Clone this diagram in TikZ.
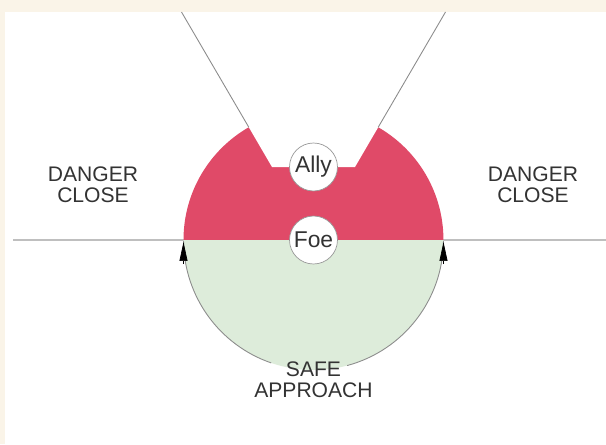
\documentclass[tikz,border=0pt]{standalone}
\usepackage{fontspec}
\setmainfont{Liberation Sans}
\usepackage{xcolor}
\usepackage{tikz}
\usetikzlibrary{arrows.meta, calc}

\definecolor{dangerred}{RGB}{224,74,104}
\definecolor{safegreen}{RGB}{221,236,218}
\definecolor{paper}{RGB}{250,244,232}
\definecolor{inkgray}{RGB}{51,51,51}

\begin{document}
\begin{tikzpicture}[
    x=0.02cm, y=0.02cm,
    font=\fontsize{12}{12}\selectfont,
    zonelabel/.style={
        align=center,
        text=inkgray,
        inner sep=1pt
    },
    unit/.style={
        circle,
        draw=gray!80,
        fill=white,
        minimum size=0.96cm,
        inner sep=0pt,
        text=inkgray,
        font=\fontsize{13}{13}\selectfont
    },
    baseline/.style={draw=gray!50, line width=1.1pt},
    vline/.style={draw=gray!90, line width=0.5pt},
    rim/.style={draw=gray!90, line width=0.5pt},
    tip/.style={-{Triangle[length=0.38cm, width=0.16cm, color=black]}}
]

\fill[paper] (0,0) rectangle (606,444);
\fill[white] (5,0) rectangle (606,432);
\useasboundingbox (0,0) rectangle (606,444);

\coordinate (C) at (313.5,204);
\coordinate (L) at (183.5,204);
\coordinate (R) at (443.5,204);
\coordinate (TL) at (181.5,432);
\coordinate (NL) at (272,277);
\coordinate (NR) at (355,277);
\coordinate (TR) at (445.5,432);
\coordinate (west) at (13,204);
\coordinate (east) at (606,204);

\draw[baseline] (west) -- (east);

\fill[dangerred] (L) arc[start angle=180, end angle=0, radius=2.6cm] -- cycle;
\fill[white] (TL) -- (NL) -- (NR) -- (TR) -- cycle;
\fill[safegreen] (L) arc[start angle=180, end angle=360, radius=2.6cm] -- cycle;

\draw[vline] (TL) -- ($(TL)!0.7435!(NL)$);
\draw[vline] (TR) -- ($(TR)!0.7435!(NR)$);

\node[zonelabel] (dangerW) at (93,259.5) {DANGER\\CLOSE};
\node[zonelabel] (dangerE) at (533,259.5) {DANGER\\CLOSE};
\node[zonelabel] (safe) at (313.5,64) {SAFE\\APPROACH};

\draw[rim] (C) ++(251:2.6cm) arc[start angle=251, end angle=180.5, radius=2.6cm];
\draw[rim] (C) ++(285:2.6cm) arc[start angle=285, end angle=359.5, radius=2.6cm];
\draw[tip] ($(L)+(0,-24)$) -- ($(L)+(0,-2)$);
\draw[tip] ($(R)+(0,-24)$) -- ($(R)+(0,-2)$);

\node[unit] (ally) at (313.5,277) {Ally};
\node[unit] (foe) at (C) {Foe};

\end{tikzpicture}
\end{document}
